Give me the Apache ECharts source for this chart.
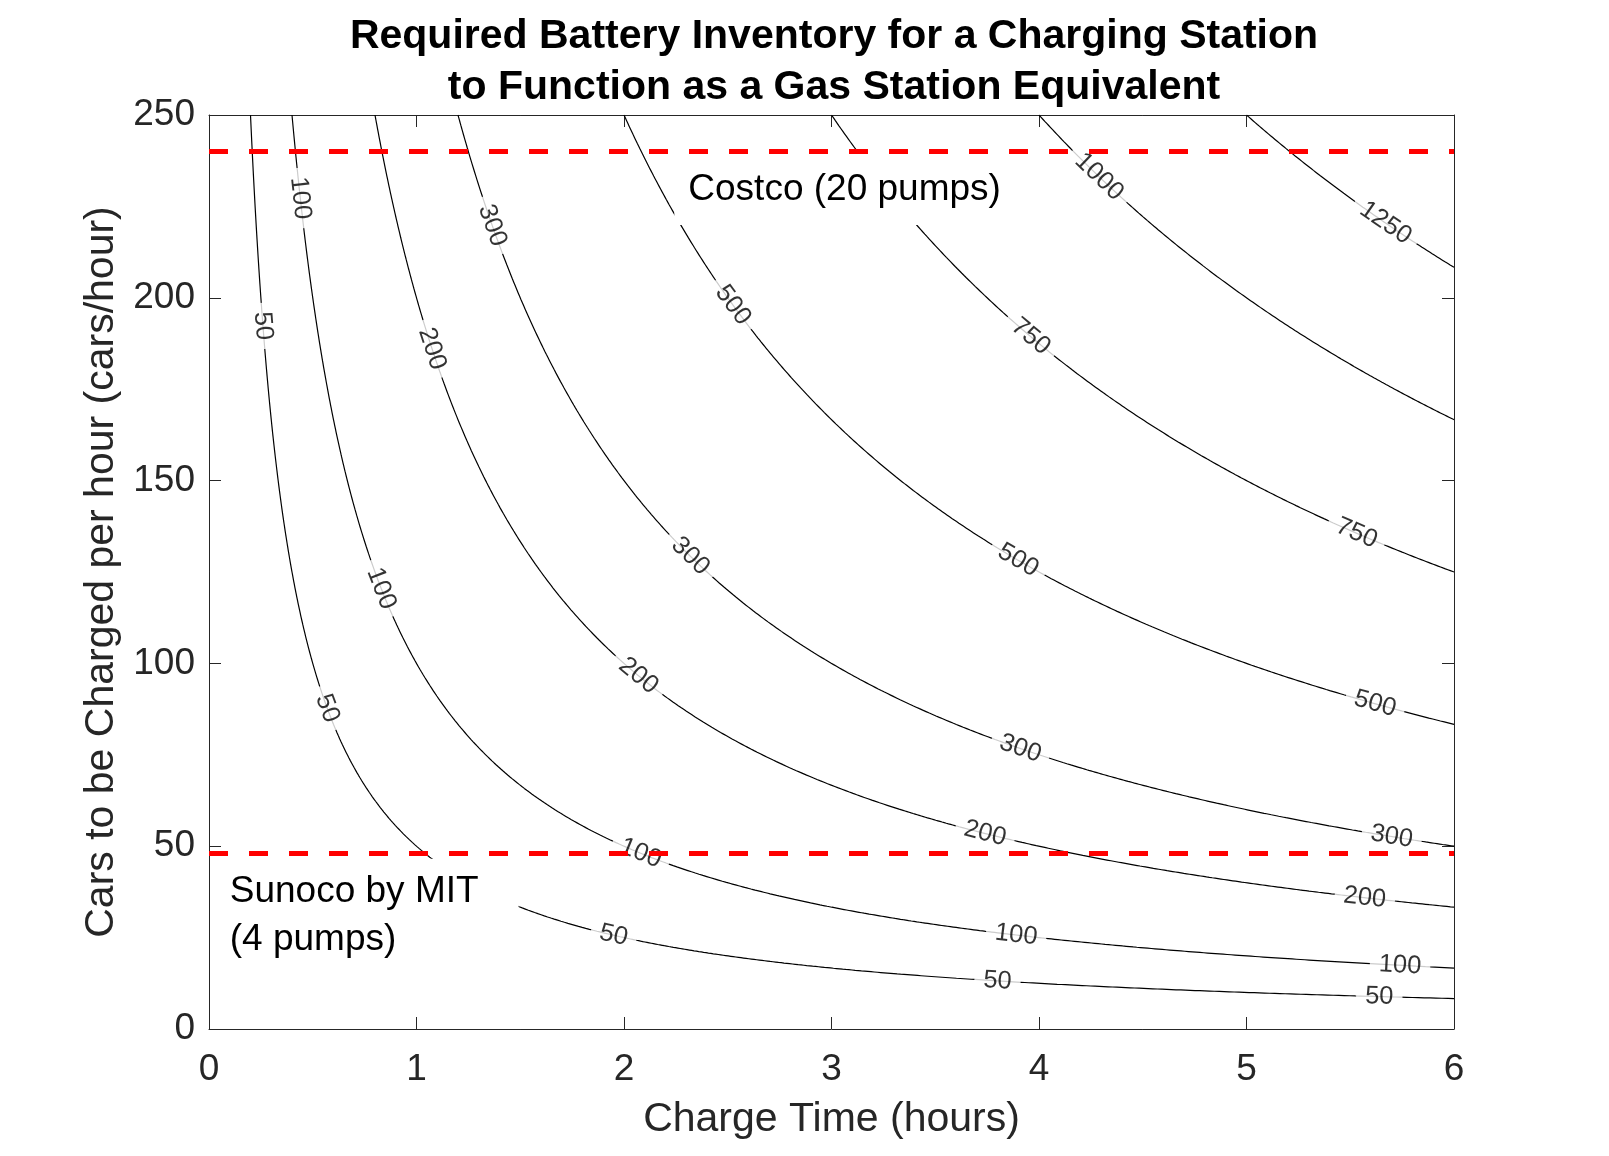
<!DOCTYPE html>
<html><head><meta charset="utf-8">
<script src="https://cdn.jsdelivr.net/npm/echarts@6/dist/echarts.min.js"></script>
<style>html,body{margin:0;padding:0;background:#fff}#c{width:1609px;height:1156px}</style>
</head><body><div id="c"></div>
<script>
// ---- data ----
const xTicks = [0, 1, 2, 3, 4, 5, 6];            // charge time (hours)
const yTicks = [0, 50, 100, 150, 200, 250];      // cars per hour
const levels = [50, 100, 200, 300, 500, 750, 1000, 1250]; // battery inventory contour levels
// charge time at which each contour's inline label sits
const labelTimes = {
  50: [0.26, 0.57, 1.95, 3.8, 5.64],
  100: [0.44, 0.83, 2.08, 3.89, 5.74],
  200: [1.075, 2.07, 3.74, 5.57],
  300: [1.365, 2.32, 3.91, 5.70],
  500: [2.525, 3.90, 5.62],
  750: [3.96, 5.53],
  1000: [4.29],
  1250: [5.67]
};
const stationNames = ['Costco (20 pumps)', 'Sunoco by MIT\n(4 pumps)'];
const stationRates = [240, 48];      // cars/hour
const noteTimes = [2.31, 0.1];       // text anchor (hours)
const noteRates = [229.5, 31];       // text anchor (cars/hour)

const FONT = '"Liberation Sans", Arial, Helvetica, sans-serif';
const xMin = xTicks[0], xMax = xTicks[xTicks.length - 1];
const yMin = yTicks[0], yMax = yTicks[yTicks.length - 1];

// inventory = charge time * cars per hour (Little's law) -> contour rate = level / time
function contourLine(level) {
  const t0 = level / yMax, n = 700, pts = [];
  for (let i = 0; i <= n; i++) {
    const t = t0 * Math.pow(xMax / t0, i / n);
    pts.push([t, level / t]);
  }
  return pts;
}

const chart = echarts.init(document.getElementById('c'), null, {renderer: 'canvas'});

function axisCommon() {
  return {
    type: 'value',
    axisLine: {show: true, onZero: false, lineStyle: {color: '#262626', width: 1}},
    axisTick: {show: true, inside: true, length: 12, lineStyle: {color: '#262626', width: 1}},
    splitLine: {show: false}
  };
}

const series = [];
levels.forEach(L => {
  series.push({
    type: 'line', data: contourLine(L), showSymbol: false, symbol: 'none',
    lineStyle: {color: '#000', width: 1.2}, z: 2, silent: true, animation: false
  });
});
const labelData = [];
levels.forEach(L => {
  labelTimes[L].forEach(t => labelData.push({name: String(L), value: [t, L / t]}));
});
series.push({
  type: 'scatter', data: labelData, symbolSize: 0, z: 3, silent: true, animation: false,
  label: {
    show: true, position: 'inside', formatter: '{b}', fontSize: 25.5, fontFamily: FONT,
    color: '#000', backgroundColor: '#fff', padding: [1, 9]
  }
});
stationRates.forEach(r => {
  series.push({
    type: 'line', data: [[xMin, r], [xMax, r]], showSymbol: false, symbol: 'none',
    lineStyle: {color: '#ff0000', width: 5, type: [19, 21]}, z: 10, silent: true, animation: false
  });
});

chart.setOption({
  animation: false,
  backgroundColor: '#fff',
  title: {
    text: 'Required Battery Inventory for a Charging Station\nto Function as a Gas Station Equivalent',
    left: 829, top: 6, textAlign: 'center',
    textStyle: {fontSize: 41, fontWeight: 'bold', color: '#000', fontFamily: FONT, lineHeight: 51}
  },
  grid: {left: 209, right: 155, top: 115, bottom: 127, containLabel: false},
  xAxis: [
    Object.assign(axisCommon(), {
      min: xMin, max: xMax, interval: 1, position: 'bottom',
      axisLabel: {fontSize: 37, color: '#262626', margin: 22, fontFamily: FONT},
      name: 'Charge Time (hours)', nameLocation: 'middle', nameGap: 70,
      nameTextStyle: {fontSize: 41, color: '#262626', fontFamily: FONT}
    }),
    Object.assign(axisCommon(), {
      min: xMin, max: xMax, interval: 1, position: 'top', axisLabel: {show: false}
    })
  ],
  yAxis: [
    Object.assign(axisCommon(), {
      min: yMin, max: yMax, interval: 50, position: 'left',
      axisLabel: {fontSize: 37, color: '#262626', margin: 14, fontFamily: FONT},
      name: 'Cars to be Charged per hour (cars/hour)', nameLocation: 'middle', nameGap: 86,
      nameTextStyle: {fontSize: 41, color: '#262626', fontFamily: FONT}
    }),
    Object.assign(axisCommon(), {
      min: yMin, max: yMax, interval: 50, position: 'right', axisLabel: {show: false}
    })
  ],
  series: series
});

// rotate inline labels along the contour tangent (pixel space)
const rotated = labelData.map(d => {
  const L = +d.name, t = d.value[0], t2 = t * 1.002;
  const p1 = chart.convertToPixel({gridIndex: 0}, [t, L / t]);
  const p2 = chart.convertToPixel({gridIndex: 0}, [t2, L / t2]);
  let ang = Math.atan2(-(p2[1] - p1[1]), p2[0] - p1[0]) * 180 / Math.PI;
  if (ang > 90) ang -= 180; if (ang < -90) ang += 180;
  return {name: d.name, value: d.value, label: {rotate: ang}};
});
const labelSeriesIndex = levels.length;
const newSeries = series.map((s, i) => i === labelSeriesIndex ? Object.assign({}, s, {data: rotated}) : s);

// annotation texts with white boxes
const boxes = [
  {padL: 14, padR: 14, padT: 36, padB: 35, extraR: 0},
  {padL: 17, padR: 0, padT: 57, padB: 57, extraR: 40}
];
const graphics = [];
const ctx = document.createElement('canvas').getContext('2d');
ctx.font = '37px ' + FONT;
stationNames.forEach((txt, i) => {
  const p = chart.convertToPixel({gridIndex: 0}, [noteTimes[i], noteRates[i]]);
  const lines = txt.split('\n');
  const w = Math.max.apply(null, lines.map(l => ctx.measureText(l).width));
  const b = boxes[i];
  graphics.push({
    type: 'rect', z: 4, silent: true,
    shape: {x: p[0] - b.padL, y: p[1] - b.padT, width: w + b.padL + b.padR + b.extraR, height: b.padT + b.padB},
    style: {fill: '#fff'}
  });
  graphics.push({
    type: 'text', x: p[0], y: p[1], z: 5, silent: true,
    style: {text: txt, fill: '#000', font: '37px ' + FONT, textAlign: 'left', textVerticalAlign: 'middle', lineHeight: 48}
  });
});

chart.setOption({series: newSeries, graphic: graphics});
</script>
</body></html>
